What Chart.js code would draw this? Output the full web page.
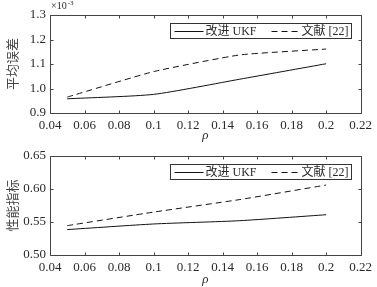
<!DOCTYPE html>
<html><head><meta charset="utf-8">
<script src="https://cdn.jsdelivr.net/npm/chart.js@4.4.1/dist/chart.umd.min.js"></script>
<style>
html,body{margin:0;padding:0;background:#fff;}
#wrap{position:relative;width:377px;height:287px;overflow:hidden;}
.c{position:absolute;left:0;}
</style></head>
<body><div id="wrap">
<div class="c" style="top:0;width:377px;height:143px"><canvas id="c1"></canvas></div>
<div class="c" style="top:143px;width:377px;height:144px"><canvas id="c2"></canvas></div>
</div>
<script>
const rho = [0.05, 0.10, 0.15, 0.20];
const seriesNames = ['改进 UKF', '文献 [22]'];
const errUKF = [0.958, 0.976, 1.038, 1.101];
const errRef = [0.965, 1.069, 1.137, 1.161];
const perfUKF = [0.5385, 0.547, 0.552, 0.561];
const perfRef = [0.5445, 0.565, 0.584, 0.606];
const xTicks = [0.04,0.06,0.08,0.10,0.12,0.14,0.16,0.18,0.20,0.22];
const xTickLabels = ['0.04','0.06','0.08','0.1','0.12','0.14','0.16','0.18','0.2','0.22'];
const yTicksTop = [0.9,1.0,1.1,1.2,1.3];
const yTicksBottom = [0.50,0.55,0.60,0.65];
const yTitleTop = '平均误差';
const yTitleBottom = '性能指标';
const xTitle = 'ρ';
const expLabel = ['×10', '-3'];

const TXT = '#2a2a2a';
const SERIF = '"Liberation Serif","Noto Sans CJK SC",serif';

const framePlugin = {
  id: 'frame',
  afterDraw(chart, args, opts) {
    const ctx = chart.ctx;
    const {left, right, top, bottom} = chart.chartArea;
    const x = chart.scales.x, y = chart.scales.y;
    ctx.save();
    ctx.strokeStyle = '#444';
    ctx.lineWidth = 1;
    const L = Math.round(left) + 0.5, R = Math.round(right) + 0.5, T = Math.round(top) + 0.5, B = Math.round(bottom) + 0.5;
    ctx.beginPath();
    ctx.rect(L, T, R - L, B - T);
    xTicks.forEach(v => {
      const px = Math.round(x.getPixelForValue(v)) + 0.5;
      ctx.moveTo(px, B); ctx.lineTo(px, B - 3);
      ctx.moveTo(px, T); ctx.lineTo(px, T + 3);
    });
    opts.yTicks.forEach(v => {
      const py = Math.round(y.getPixelForValue(v)) + 0.5;
      ctx.moveTo(L, py); ctx.lineTo(L + 3, py);
      ctx.moveTo(R, py); ctx.lineTo(R - 3, py);
    });
    ctx.stroke();

    // legend
    const bw = 181, bh = 15;
    const bx = Math.round(right) - 10 - bw + 0.5, by = Math.round(top) + 8 + 0.5;
    ctx.fillStyle = '#fff';
    ctx.fillRect(bx, by, bw, bh);
    ctx.strokeStyle = '#333';
    ctx.strokeRect(bx, by, bw, bh);
    const cy = Math.round(by + bh / 2) ;
    ctx.font = '12px ' + SERIF;
    ctx.textBaseline = 'middle';
    ctx.fillStyle = TXT;
    const ds = chart.data.datasets;
    ctx.strokeStyle = '#111';
    ctx.setLineDash([]);
    ctx.beginPath(); ctx.moveTo(bx + 4, cy + 0.5); ctx.lineTo(bx + 33, cy + 0.5); ctx.stroke();
    ctx.fillText(ds[0].label, bx + 35, cy + 1);
    ctx.setLineDash([6, 4]);
    ctx.beginPath(); ctx.moveTo(bx + 101, cy + 0.5); ctx.lineTo(bx + 130, cy + 0.5); ctx.stroke();
    ctx.setLineDash([]);
    ctx.fillText(ds[1].label, bx + 131, cy + 1);

    if (opts.exp) {
      ctx.textBaseline = 'alphabetic';
      ctx.font = '10px ' + SERIF;
      ctx.fillText(expLabel[0], left + 1, 9);
      const w = ctx.measureText(expLabel[0]).width;
      ctx.font = '7px ' + SERIF;
      ctx.fillText(expLabel[1], left + 2 + w, 5);
    }
    ctx.restore();
  }
};

function makeChart(id, d1, d2, yMin, yMax, yStep, yTicks, yTitle, padTop, xH, dec, exp) {
  return new Chart(document.getElementById(id), {
    type: 'line',
    data: {
      datasets: [
        { label: seriesNames[0], data: rho.map((r, i) => ({x: r, y: d1[i]})), borderColor: '#111', borderWidth: 1, pointRadius: 0, tension: 0.2, fill: false },
        { label: seriesNames[1], data: rho.map((r, i) => ({x: r, y: d2[i]})), borderColor: '#111', borderWidth: 1, borderDash: [6, 4], pointRadius: 0, tension: 0.15, fill: false }
      ]
    },
    options: {
      responsive: true, maintainAspectRatio: false, animation: false,
      layout: { padding: { top: padTop, right: 15, left: 0, bottom: 0 } },
      plugins: { legend: { display: false }, tooltip: { enabled: false }, frame: { yTicks: yTicks, exp: exp } },
      scales: {
        x: {
          type: 'linear', min: 0.04, max: 0.22,
          afterBuildTicks: s => { s.ticks = xTicks.map(v => ({value: v})); },
          afterFit: s => { s.height = xH; },
          grid: { display: false, drawTicks: false },
          border: { display: false },
          ticks: { padding: 5, color: TXT, font: { family: SERIF, size: 13 }, maxRotation: 0, autoSkip: false,
                   callback: (v) => { const i = xTicks.findIndex(t => Math.abs(t - v) < 1e-9); return i >= 0 ? xTickLabels[i] : ''; } },
          title: { display: true, text: xTitle, color: TXT, padding: 0, font: { family: SERIF, size: 13, style: 'italic' } }
        },
        y: {
          min: yMin, max: yMax,
          afterBuildTicks: s => { s.ticks = yTicks.map(v => ({value: v})); },
          afterFit: s => { s.width = 50; },
          grid: { display: false, drawTicks: false },
          border: { display: false },
          ticks: { padding: 4, color: TXT, font: { family: SERIF, size: 13 }, autoSkip: false,
                   callback: v => Number(v).toFixed(dec) },
          title: { display: true, text: yTitle, color: '#444', padding: { top: 6, bottom: 4 }, font: { family: SERIF, size: 13 } }
        }
      }
    },
    plugins: [framePlugin]
  });
}

makeChart('c1', errUKF, errRef, 0.9, 1.3, 0.1, yTicksTop, yTitleTop, 15, 30, 1, true);
makeChart('c2', perfUKF, perfRef, 0.50, 0.65, 0.05, yTicksBottom, yTitleBottom, 13, 32, 2, false);
</script>
</body></html>
